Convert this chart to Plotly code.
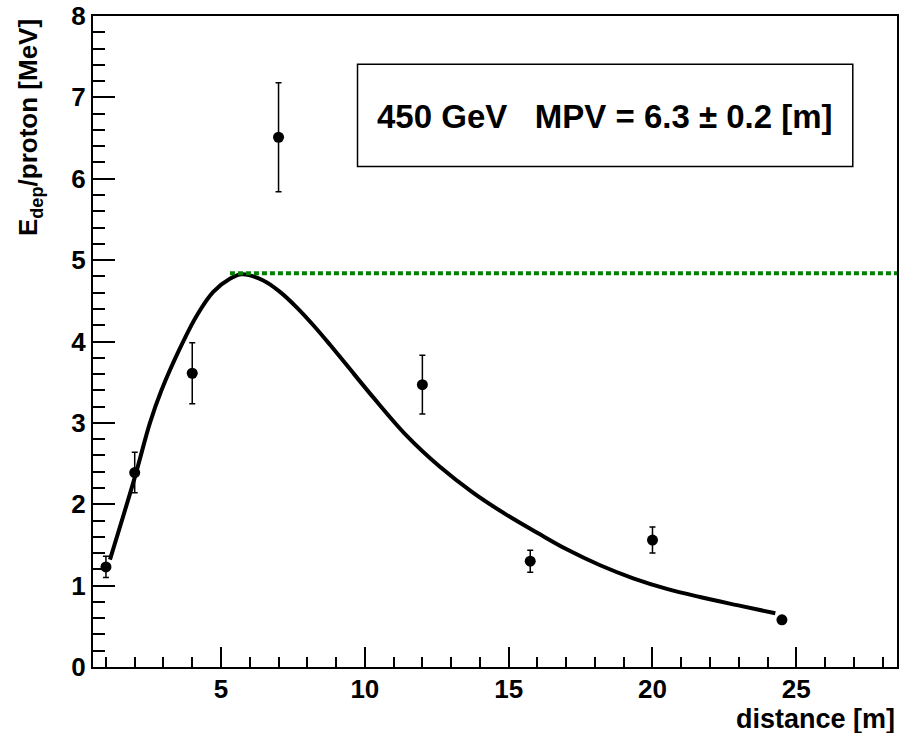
import plotly.graph_objects as go

# measured points
dist = [1, 2, 4, 7, 12, 15.75, 20, 24.5]
edep = [1.23, 2.39, 3.61, 6.51, 3.47, 1.30, 1.56, 0.58]
edep_err = [0.13, 0.25, 0.375, 0.67, 0.36, 0.135, 0.16, 0.03]

# fitted curve
fit_x = [1.14, 2.01, 2.53, 2.93, 3.55, 4.16, 4.73, 5.31, 5.72, 6.47, 7.05, 7.63, 8.21,
         8.79, 9.37, 10.30, 11.46, 12.61, 13.77, 14.93, 16.09, 17.0,
         18.18, 19.33, 20.5, 21.65, 22.94, 24.27]
fit_y = [1.32, 2.34, 3.0, 3.40, 3.90, 4.32, 4.61, 4.77, 4.825, 4.75, 4.61, 4.42, 4.20,
         3.96, 3.71, 3.31, 2.84, 2.46, 2.14, 1.87, 1.63, 1.45,
         1.25, 1.09, 0.96, 0.86, 0.76, 0.66]

# MPV reference level
mpv_x = [5.31, 28.5]
mpv_y = [4.84, 4.84]

x_range = [0.55, 28.5]
y_range = [0, 8.0001]

FONT = "Liberation Sans, Arial, Helvetica, sans-serif"

fig = go.Figure()
fig.add_trace(go.Scatter(x=fit_x, y=fit_y, mode="lines",
                         line=dict(color="black", width=4, shape="spline", smoothing=1.0),
                         hoverinfo="skip", showlegend=False))
fig.add_trace(go.Scatter(x=mpv_x, y=mpv_y, mode="lines",
                         line=dict(color="#008000", width=4, dash="5px,3px"),
                         hoverinfo="skip", showlegend=False))
fig.add_trace(go.Scatter(x=dist, y=edep, mode="markers",
                         marker=dict(color="black", size=11),
                         error_y=dict(type="data", array=edep_err, color="black",
                                      thickness=1.5, width=3),
                         showlegend=False))

fig.add_shape(type="rect", xref="paper", yref="paper",
              x0=0.329, x1=0.945, y0=0.769, y1=0.926,
              line=dict(color="black", width=1.5), fillcolor="white", layer="below")
fig.add_annotation(xref="paper", yref="paper", x=0.637, y=0.845,
                   text="450 GeV\u00a0\u00a0\u00a0MPV = 6.3 \u00b1 0.2 [m]",
                   showarrow=False, xanchor="center", yanchor="middle",
                   font=dict(family=FONT, size=33, color="black", weight="bold"))

fig.add_annotation(xref="paper", yref="paper", x=-0.078, y=0.998,
                   text="E<sub>dep</sub>/proton [MeV]", textangle=-90,
                   showarrow=False, xanchor="center", yanchor="top",
                   font=dict(family=FONT, size=26, color="black", weight="bold"))
fig.add_annotation(xref="paper", yref="paper", x=1.0, y=-0.106,
                   text="distance [m]", showarrow=False,
                   xanchor="right", yanchor="bottom",
                   font=dict(family=FONT, size=27, color="black", weight="bold"))

axis_common = dict(showgrid=False, zeroline=False, showline=True, linecolor="black",
                   linewidth=2, mirror=True, ticks="inside", tickcolor="black",
                   tickwidth=1.5, automargin=False, ticklabeloverflow="allow",
                   tickfont=dict(family=FONT, size=26, color="black", weight="bold"))

fig.update_xaxes(range=x_range, tickmode="array", tickvals=[5, 10, 15, 20, 25],
                 ticklen=20, ticklabelstandoff=-2,
                 minor=dict(ticks="inside", ticklen=10, dtick=1, tick0=0,
                            tickcolor="black", tickwidth=1.5),
                 **axis_common)
fig.update_yaxes(range=y_range, tickmode="array", tickvals=[0, 1, 2, 3, 4, 5, 6, 7, 8],
                 ticklen=22,
                 minor=dict(ticks="inside", ticklen=12, dtick=0.2, tick0=0,
                            tickcolor="black", tickwidth=1.5),
                 **axis_common)

fig.update_layout(width=899, height=733,
                  margin=dict(l=93, r=2, t=16, b=66),
                  paper_bgcolor="white", plot_bgcolor="white")

# remove the default page margin so the figure fills the window exactly
fig.write_html("out.html",
               config={"displayModeBar": False},
               post_script="document.body.style.margin='0';document.body.style.overflow='hidden';")
